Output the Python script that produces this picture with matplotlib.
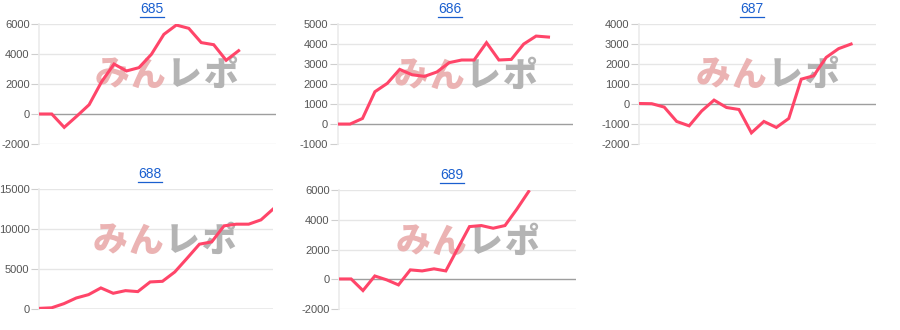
import matplotlib
matplotlib.use("Agg")
import matplotlib.pyplot as plt
from matplotlib.lines import Line2D

plt.rcParams['font.family'] = ['Liberation Sans', 'DejaVu Sans']

# === data ===
titles = ['685', '686', '687', '688', '689']

s685 = [0, 0, -890, -150, 620, 2150, 3330, 2870, 3090, 3980, 5310, 5930,
        5710, 4760, 4620, 3580, 4220]
s686 = [0, 0, 280, 1620, 2040, 2740, 2470, 2390, 2610, 3080, 3210, 3210,
        4080, 3210, 3240, 4010, 4410, 4360]
s687 = [30, 20, -150, -870, -1090, -350, 200, -170, -270, -1440, -870, -1170,
        -720, 1250, 1420, 2340, 2780, 3010]
s688 = [80, 150, 670, 1380, 1800, 2640, 1970, 2300, 2180, 3390, 3470, 4640,
        6360, 8120, 8410, 10420, 10630, 10630, 11170, 12550]
s689 = [20, 20, -760, 220, -40, -380, 630, 560, 700, 560, 2060, 3540,
        3610, 3430, 3610, 4710, 5900]

series = [s685, s686, s687, s688, s689]
yticks = [
    [-2000, 0, 2000, 4000, 6000],
    [-1000, 0, 1000, 2000, 3000, 4000, 5000],
    [-2000, -1000, 0, 1000, 2000, 3000, 4000],
    [0, 5000, 10000, 15000],
    [-2000, 0, 2000, 4000, 6000],
]
xmax = [19, 19, 19, 19, 20]

mark_chars = ['み', 'ん', 'レ', 'ポ']
mark_cols = ['#ebb3b3', '#ebb3b3', '#b4b4b4', '#b4b4b4']

W, H = 900, 330
# axes boxes in pixels: left, right, top, bottom
boxes = [
    (39.3, 276.0, 24.0, 144.0),
    (337.7, 573.3, 24.3, 144.0),
    (639.3, 876.0, 24.3, 144.0),
    (39.3, 273.3, 189.3, 309.0),
    (339.3, 576.0, 190.0, 309.0),
]
title_pos = [(152, 9.3), (450, 9.3), (752, 9.3), (150, 174.3), (452, 175.0)]
mark_pos = [(166, 75), (465, 76), (767, 75), (164, 241), (467, 242)]

LINE = '#ff4569'
GRID = '#e6e6e6'
ZERO = '#9e9e9e'
TXT = '#555555'
LINK = '#1a5fcf'

fig = plt.figure(figsize=(W / 100, H / 100), dpi=100)

titles_txt = []
for i, vals in enumerate(series):
    l, r, t, b = boxes[i]
    ax = fig.add_axes([l / W, 1 - b / H, (r - l) / W, (b - t) / H])
    ax.plot(range(len(vals)), vals, color=LINE, lw=2.2, zorder=3,
            solid_joinstyle='miter')
    ax.set_xlim(0, xmax[i])
    ax.set_ylim(yticks[i][0], yticks[i][-1])
    ax.set_yticks(yticks[i])
    ax.set_yticklabels([str(v) for v in yticks[i]])
    ax.set_xticks([])
    for v in yticks[i]:
        ax.axhline(v, color=ZERO if v == 0 else GRID, lw=1.0, zorder=1)
    for sp in ['top', 'right', 'bottom']:
        ax.spines[sp].set_visible(False)
    ax.spines['left'].set_color('#ebebeb')
    ax.spines['left'].set_linewidth(1.2)
    ax.tick_params(axis='y', length=6, width=0.8, color='#cfcfcf', pad=1,
                   labelsize=8, labelcolor=TXT)

    # watermark, one glyph at a time so they sit close together
    mx, my = mark_pos[i]
    for k, ch in enumerate(mark_chars):
        cx = mx + (k - 1.5) * 36
        ax.text(cx / W, 1 - my / H, ch, ha='center', va='center',
                fontsize=25, fontweight='heavy', color=mark_cols[k],
                family=['Noto Sans CJK JP'], transform=fig.transFigure,
                zorder=2, clip_on=False)

    tx, ty = title_pos[i]
    txt = fig.text(tx / W, 1 - ty / H, titles[i], ha='center', va='center',
                   fontsize=10, color=LINK)
    titles_txt.append(txt)

# underline the link-style titles
fig.canvas.draw()
renderer = fig.canvas.get_renderer()
for txt in titles_txt:
    bb = txt.get_window_extent(renderer)
    y = bb.y0 - 0.5
    fig.add_artist(Line2D([bb.x0 / W, bb.x1 / W], [y / H, y / H],
                          color=LINK, lw=0.9, transform=fig.transFigure))

fig.savefig('out.png', dpi=100)
